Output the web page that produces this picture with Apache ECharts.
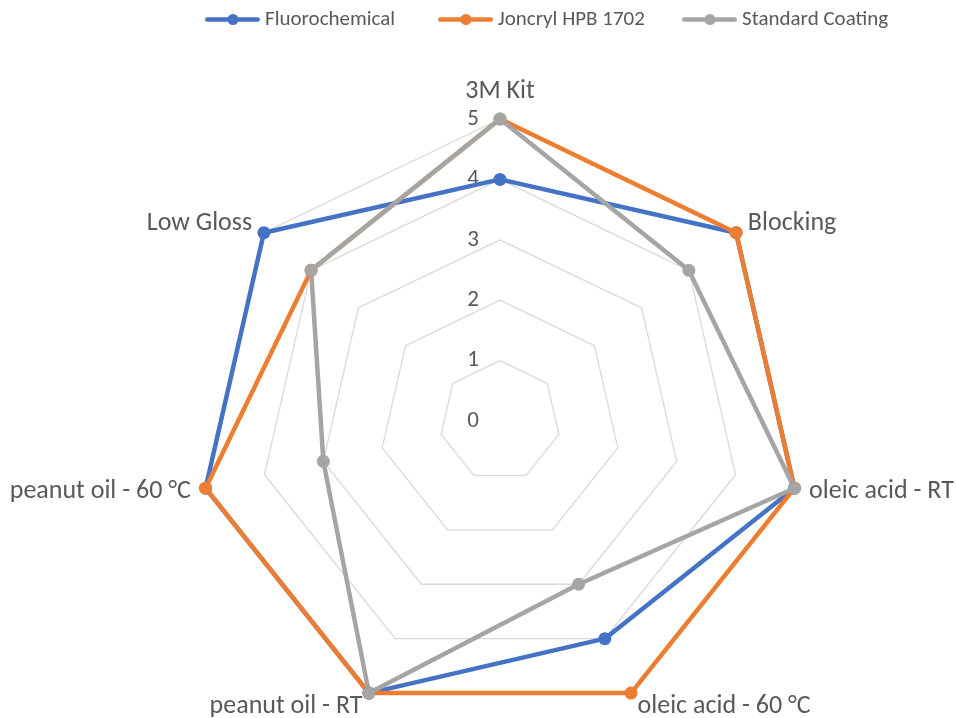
<!DOCTYPE html>
<html>
<head>
<meta charset="utf-8">
<script src="https://cdn.jsdelivr.net/npm/echarts@6/dist/echarts.min.js"></script>
<style>
html,body{margin:0;padding:0;background:#fff;}
#chart{width:956px;height:718px;}
</style>
</head>
<body>
<div id="chart"></div>
<script>
// Categories in clockwise order starting at the top (as in the reference)
const categories = ['3M Kit', 'Blocking', 'oleic acid - RT', 'oleic acid - 60 °C', 'peanut oil - RT', 'peanut oil - 60 °C', 'Low Gloss'];
const seriesNames = ['Fluorochemical', 'Joncryl HPB 1702', 'Standard Coating'];
const fluorochemical = [4, 5, 5, 4, 5, 5, 5];
const joncryl = [5, 5, 5, 5, 5, 5, 4];
const standardCoating = [5, 4, 5, 3, 5, 3, 4];
const tickLabels = [0, 1, 2, 3, 4, 5];
const colors = ['#4472C4', '#ED7D31', '#A5A5A5'];

const FONT = 'Carlito, Calibri, Lato, sans-serif';
const TEXT = '#595959';

// ECharts radar runs counter-clockwise; reorder so the picture runs clockwise
const order = [0, 6, 5, 4, 3, 2, 1];
const reorder = arr => order.map(i => arr[i]);

const allSeries = [fluorochemical, joncryl, standardCoating];

const legendIcon = 'path://M2.25,3.25 L52.75,3.25 A2.25,2.25 0 0 1 52.75,7.75 L2.25,7.75 A2.25,2.25 0 0 1 2.25,3.25 Z M22.5,5.5 A5.5,5.5 0 0 1 33.5,5.5 A5.5,5.5 0 0 1 22.5,5.5 Z';
const legendLefts = [205, 438, 682];

const chart = echarts.init(document.getElementById('chart'));
chart.setOption({
  animation: false,
  backgroundColor: '#fff',
  legend: seriesNames.map((n, i) => ({
    data: [{ name: n, icon: legendIcon }],
    left: legendLefts[i],
    top: 9,
    padding: 0,
    itemWidth: 55,
    itemHeight: 11,
    selectedMode: false,
    textStyle: { color: TEXT, fontSize: 21, fontFamily: FONT }
  })),
  radar: {
    center: [500, 421],
    radius: 302,
    startAngle: 90,
    splitNumber: 5,
    shape: 'polygon',
    nameGap: 15,
    axisName: { color: TEXT, fontSize: 26, fontFamily: FONT },
    indicator: reorder(categories).map((c, i) => {
      const o = { name: c, min: 0, max: 5 };
      if (i === 0) o.axisLabel = { show: true };
      return o;
    }),
    axisLine: { show: false },
    axisTick: { show: false },
    axisLabel: {
      show: false, color: TEXT, fontSize: 23, fontFamily: FONT, margin: 21,
      formatter: v => String(tickLabels[Math.round(v)] !== undefined ? tickLabels[Math.round(v)] : v)
    },
    splitLine: { lineStyle: { color: '#D9D9D9', width: 1.3 } },
    splitArea: { show: false }
  },
  series: [{
    type: 'radar',
    symbol: 'circle',
    symbolSize: 13,
    data: allSeries.map((vals, i) => ({
      name: seriesNames[i],
      value: reorder(vals),
      itemStyle: { color: colors[i] },
      lineStyle: { color: colors[i], width: 4.5 }
    }))
  }]
});
</script>
</body>
</html>
